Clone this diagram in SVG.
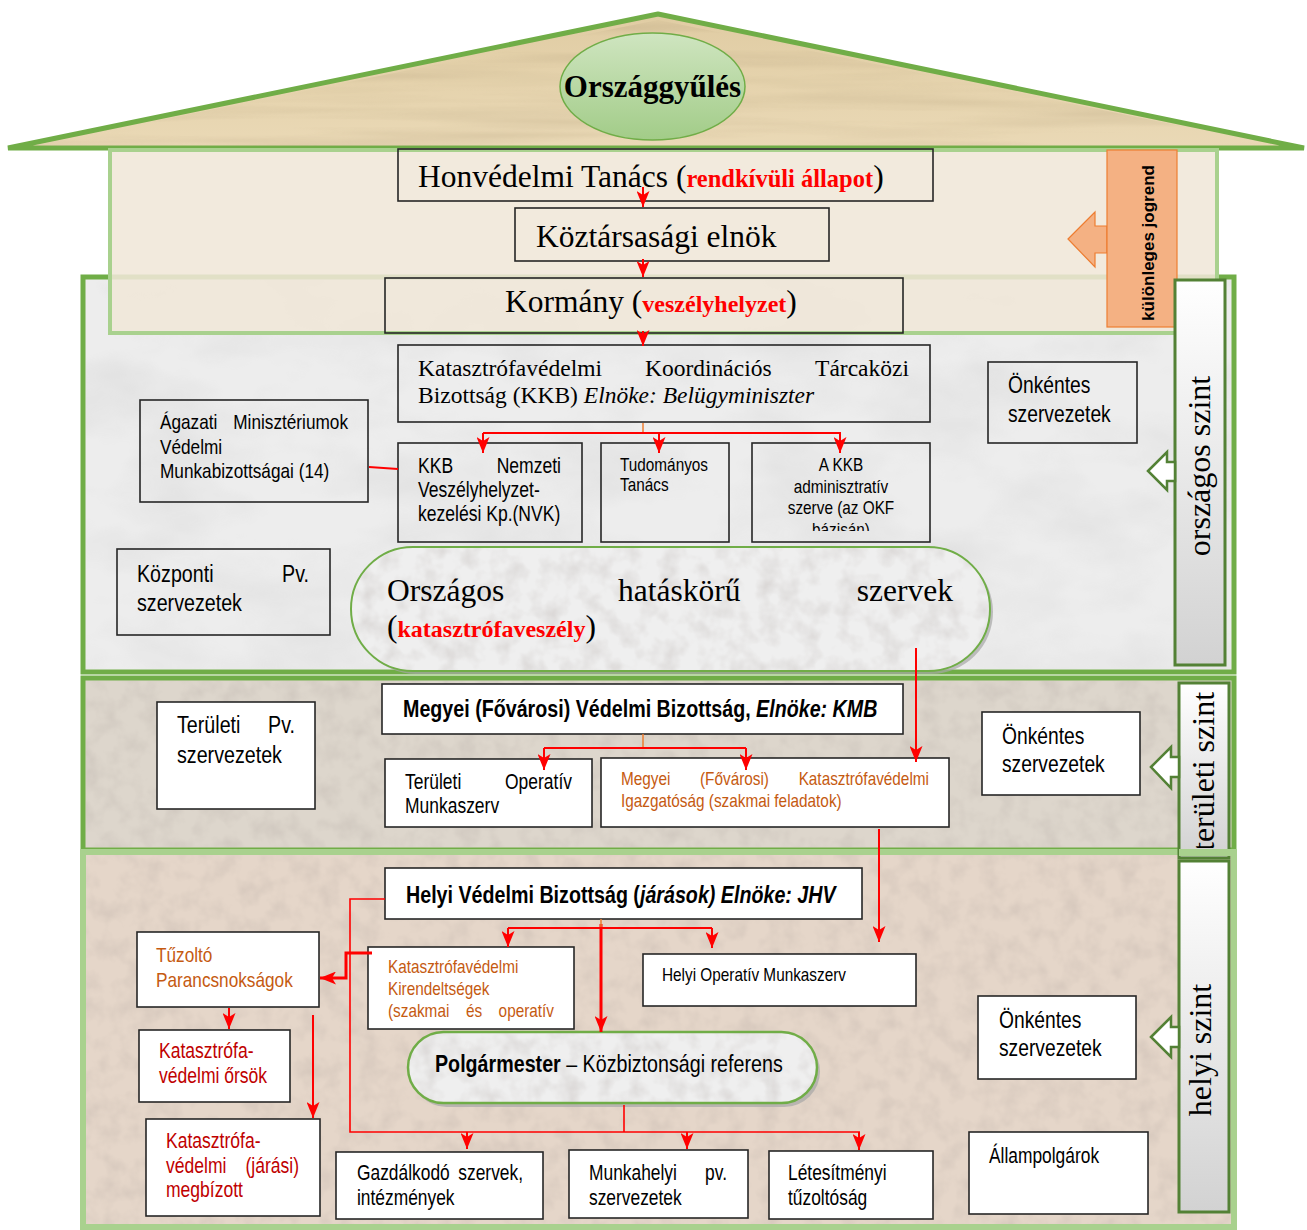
<svg xmlns="http://www.w3.org/2000/svg" width="1307" height="1230" viewBox="0 0 1307 1230">
<defs>
<style>
.s{font-family:"Liberation Serif","Times New Roman",serif}
.n{font-family:"Liberation Sans Narrow","Liberation Sans",Arial,sans-serif}
.a{font-family:"Liberation Sans",Arial,sans-serif}
.bx{fill:none;stroke:#262626;stroke-width:1.6}
.bw{fill:#fff;stroke:#262626;stroke-width:1.6}
.rl{fill:none;stroke:#ff0000;stroke-width:2}
.rf{fill:none;stroke:#ff0000;stroke-width:1.6}
.rt{fill:none;stroke:#ff0000;stroke-width:3}
.ol{fill:none;stroke:#ed7d31;stroke-width:1.5}
.red{fill:#ff0000;font-weight:bold}
.or{fill:#c55a11}
.dr{fill:#c00000}
.lvl{fill:url(#lvlg);stroke:#538135;stroke-width:3}
.la{fill:#fff;stroke:#538135;stroke-width:2.5}
</style>
<linearGradient id="roofg" x1="0" y1="0" x2="0" y2="1"><stop offset="0" stop-color="#e0cca3"/><stop offset="1" stop-color="#ead9b6"/></linearGradient>
<linearGradient id="ovg" x1="0" y1="0" x2="0" y2="1"><stop offset="0" stop-color="#cfe5c0"/><stop offset="1" stop-color="#a2cc88"/></linearGradient>
<linearGradient id="lvlg" x1="0" y1="0" x2="0" y2="1"><stop offset="0" stop-color="#ffffff"/><stop offset="1" stop-color="#d2d2d2"/></linearGradient>
<filter id="tx" x="0" y="0" width="1" height="1">
<feTurbulence type="fractalNoise" baseFrequency="0.008 0.014" numOctaves="4" seed="7"/>
<feColorMatrix type="matrix" values="0 0 0 0 0.3 0 0 0 0 0.3 0 0 0 0 0.3 -1.6 0 0 0 0.95"/>
<feComposite in2="SourceGraphic" operator="in"/>
</filter>
<filter id="tf" x="0" y="0" width="1" height="1">
<feTurbulence type="fractalNoise" baseFrequency="0.05 0.05" numOctaves="3" seed="3"/>
<feColorMatrix type="matrix" values="0 0 0 0 0.35 0 0 0 0 0.3 0 0 0 0 0.28 -1.6 0 0 0 0.95"/>
<feComposite in2="SourceGraphic" operator="in"/>
</filter>
<filter id="ts" x="0" y="0" width="1" height="1">
<feTurbulence type="fractalNoise" baseFrequency="0.003 0.06" numOctaves="3" seed="5"/>
<feColorMatrix type="matrix" values="0 0 0 0 0.45 0 0 0 0 0.35 0 0 0 0 0.2 -1.6 0 0 0 0.95"/>
<feComposite in2="SourceGraphic" operator="in"/>
</filter>
<marker id="ah" viewBox="0 0 16 13" refX="16" refY="6.5" markerWidth="16" markerHeight="13" markerUnits="userSpaceOnUse" orient="auto"><path d="M0,0 L16,6.5 L0,13 L4,6.5 z" fill="#ff0000"/></marker>
<clipPath id="cpKkb"><rect x="752" y="443" width="178" height="88"/></clipPath>
<clipPath id="cpTer"><rect x="1170" y="680" width="70" height="168"/></clipPath>
</defs>

<!-- building -->
<g id="roof">
<polygon points="8,148 658,14 1304,148" fill="url(#roofg)" stroke="#70ad47" stroke-width="5" stroke-linejoin="bevel"/>
<polygon points="30,146 658,20 1280,146" fill="#fff" filter="url(#ts)" opacity="0.35"/>
</g>
<g id="national-area">
<rect x="83" y="277" width="1151" height="395" fill="#ededed" stroke="#70ad47" stroke-width="5"/>
<rect x="86" y="280" width="1145" height="389" fill="#fff" filter="url(#tx)" opacity="0.18"/>
</g>
<g id="special-band">
<rect x="110" y="150" width="1107" height="183" fill="#f0e7d8" fill-opacity="0.88" stroke="#a9d18e" stroke-width="4"/>
</g>
<g id="territorial-area">
<rect x="83" y="678" width="1151" height="172" fill="#ddd6cc" stroke="#70ad47" stroke-width="5"/>
<rect x="86" y="681" width="1145" height="166" fill="#fff" filter="url(#tf)" opacity="0.25"/>
</g>
<g id="local-area">
<rect x="83" y="852" width="1151" height="375" fill="#e5d6c9" stroke="#a9d18e" stroke-width="6"/>
<rect x="86" y="855" width="1145" height="369" fill="#fff" filter="url(#tf)" opacity="0.25"/>
</g>

<g id="orszaggyules">
<ellipse cx="652.5" cy="86.5" rx="92.5" ry="53.5" fill="url(#ovg)" stroke="#70ad47" stroke-width="1.5"/>
<text class="s" x="652.5" y="97" font-size="31" font-weight="bold" text-anchor="middle">Országgyűlés</text>
</g>

<!-- level labels -->
<g id="kulonleges-jogrend">
<polygon points="1068,239 1095,212 1095,226 1107,226 1107,253 1095,253 1095,267" fill="#f4b183" stroke="#ed7d31" stroke-width="1.2"/>
<rect x="1107" y="150" width="70" height="177" fill="#f4b183" stroke="#ed7d31" stroke-width="1.2"/>
<text class="a" x="0" y="0" font-size="17" font-weight="bold" text-anchor="middle" transform="translate(1154,243) rotate(-90)">különleges jogrend</text>
</g>
<g id="orszagos-szint">
<rect class="lvl" x="1175" y="280" width="50" height="385"/>
<polygon class="la" points="1148,471 1167,452 1167,462 1175,462 1175,481 1167,481 1167,490"/>
<text class="s" x="0" y="0" font-size="32" text-anchor="middle" transform="translate(1210,466) rotate(-90)">országos szint</text>
</g>
<g id="teruleti-szint">
<rect class="lvl" x="1179" y="683" width="50" height="175"/>
<polygon class="la" points="1151,767 1171,747 1171,757 1179,757 1179,777 1171,777 1171,788"/>
<g clip-path="url(#cpTer)"><text class="s" x="0" y="0" font-size="32" transform="translate(1214,851) rotate(-90)">területi szint</text></g>
</g>
<g id="local-band-fix"><rect x="1179" y="849" width="55" height="7" fill="#a9d18e"/></g>
<g id="helyi-szint">
<rect class="lvl" x="1179" y="861" width="50" height="351"/>
<polygon class="la" points="1151,1037 1171,1017 1171,1027 1179,1027 1179,1047 1171,1047 1171,1057"/>
<text class="s" x="0" y="0" font-size="32" text-anchor="middle" transform="translate(1211,1050) rotate(-90)">helyi szint</text>
</g>

<!-- upper nodes -->
<g id="honvedelmi-tanacs">
<rect class="bx" x="398" y="149" width="535" height="52"/>
<text class="s" x="418" y="187" font-size="31.5">Honvédelmi Tanács (<tspan class="red" font-size="24.5">rendkívüli állapot</tspan>)</text>
</g>
<g id="koztarsasagi-elnok">
<rect class="bx" x="515" y="208" width="314" height="53"/>
<text class="s" x="536" y="247" font-size="31.5">Köztársasági elnök</text>
</g>
<g id="kormany">
<rect class="bx" x="385" y="278" width="518" height="55"/>
<text class="s" x="505" y="312" font-size="31.5">Kormány (<tspan class="red" font-size="24">veszélyhelyzet</tspan>)</text>
</g>

<!-- national level -->
<g id="kkb">
<rect class="bx" x="398" y="345" width="532" height="77"/>
<text class="s" font-size="23.5"><tspan x="418" y="376">Katasztrófavédelmi</tspan><tspan x="645" y="376">Koordinációs</tspan><tspan x="909" y="376" text-anchor="end">Tárcaközi</tspan></text>
<text class="s" x="418" y="403" font-size="23.5">Bizottság (KKB) <tspan font-style="italic">Elnöke: Belügyminiszter</tspan></text>
</g>
<g id="agazati">
<rect class="bx" x="140" y="400" width="228" height="102"/>
<text class="n" font-size="21" transform="matrix(.82 0 0 1 28.8 0)"><tspan x="160" y="429">Ágazati</tspan><tspan x="160" y="454">Védelmi</tspan><tspan x="160" y="478">Munkabizottságai (14)</tspan></text>
<text class="n" font-size="21" x="348" y="429" text-anchor="end" transform="matrix(.82 0 0 1 62.64 0)">Minisztériumok</text>
</g>
<g id="nvk">
<rect class="bx" x="398" y="443" width="184" height="99"/>
<text class="n" font-size="21.4" transform="matrix(.82 0 0 1 75.24 0)"><tspan x="418" y="473">KKB</tspan><tspan x="418" y="497">Veszélyhelyzet-</tspan><tspan x="418" y="521">kezelési Kp.(NVK)</tspan></text>
<text class="n" font-size="21.4" x="561" y="473" text-anchor="end" transform="matrix(.82 0 0 1 100.98 0)">Nemzeti</text>
</g>
<g id="tudomanyos-tanacs">
<rect class="bx" x="601" y="443" width="128" height="99"/>
<text class="n" font-size="18.7" transform="matrix(.82 0 0 1 111.6 0)"><tspan x="620" y="471">Tudományos</tspan><tspan x="620" y="491">Tanács</tspan></text>
</g>
<g id="kkb-adminisztrativ">
<rect class="bx" x="752" y="443" width="178" height="99"/>
<g clip-path="url(#cpKkb)"><text class="n" font-size="18.7" text-anchor="middle" transform="matrix(.82 0 0 1 151.38 0)"><tspan x="841" y="471">A KKB</tspan><tspan x="841" y="493">adminisztratív</tspan><tspan x="841" y="514">szerve (az OKF</tspan><tspan x="841" y="536">bázisán)</tspan></text></g>
</g>
<g id="onkentes-orszagos">
<rect class="bx" x="988" y="362" width="149" height="81"/>
<text class="n" font-size="23.5" transform="matrix(.82 0 0 1 181.44 0)"><tspan x="1008" y="393">Önkéntes</tspan><tspan x="1008" y="422">szervezetek</tspan></text>
</g>
<g id="kozponti-pv">
<rect class="bx" x="117" y="549" width="213" height="86"/>
<text class="n" font-size="24" transform="matrix(.82 0 0 1 24.66 0)"><tspan x="137" y="582">Központi</tspan><tspan x="137" y="611">szervezetek</tspan></text>
<text class="n" font-size="24" x="309" y="582" text-anchor="end" transform="matrix(.82 0 0 1 55.62 0)">Pv.</text>
</g>
<g id="orszagos-hataskoru">
<rect x="354" y="550" width="639" height="124" rx="62" fill="#a6a6a6" opacity="0.7"/>
<rect x="351" y="547" width="639" height="124" rx="62" fill="#efefef" stroke="#70ad47" stroke-width="2"/>
<rect x="352" y="548" width="637" height="122" rx="61" fill="#fff" filter="url(#tf)" opacity="0.3"/>
<text class="s" font-size="31.5"><tspan x="387" y="601">Országos</tspan><tspan x="618" y="601">hatáskörű</tspan><tspan x="953" y="601" text-anchor="end">szervek</tspan></text>
<text class="s" x="387" y="637" font-size="31.5">(<tspan class="red" font-size="24">katasztrófaveszély</tspan>)</text>
</g>

<!-- territorial level -->
<g id="teruleti-pv">
<rect class="bw" x="157" y="702" width="158" height="107"/>
<text class="n" font-size="24" transform="matrix(.82 0 0 1 31.86 0)"><tspan x="177" y="733">Területi</tspan><tspan x="177" y="763">szervezetek</tspan></text>
<text class="n" font-size="24" x="295" y="733" text-anchor="end" transform="matrix(.82 0 0 1 53.1 0)">Pv.</text>
</g>
<g id="megyei-vb">
<rect class="bw" x="382" y="684" width="521" height="50"/>
<text class="n" x="403" y="717" font-size="24" font-weight="bold" transform="matrix(.82 0 0 1 72.54 0)">Megyei (Fővárosi) Védelmi Bizottság, <tspan font-style="italic">Elnöke: KMB</tspan></text>
</g>
<g id="teruleti-operativ">
<rect class="bw" x="385" y="759" width="207" height="68"/>
<text class="n" font-size="21.3" transform="matrix(.82 0 0 1 72.9 0)"><tspan x="405" y="789">Területi</tspan><tspan x="405" y="813">Munkaszerv</tspan></text>
<text class="n" font-size="21.3" x="572" y="789" text-anchor="end" transform="matrix(.82 0 0 1 102.96 0)">Operatív</text>
</g>
<g id="megyei-igazgatosag">
<rect class="bw" x="601" y="758" width="348" height="69"/>
<text class="n or" font-size="18.7" transform="matrix(.82 0 0 1 111.78 0)"><tspan x="621" y="785">Megyei</tspan><tspan x="621" y="807">Igazgatóság (szakmai feladatok)</tspan></text>
<text class="n or" font-size="18.7" x="700" y="785" transform="matrix(.82 0 0 1 126 0)">(Fővárosi)</text>
<text class="n or" font-size="18.7" x="929" y="785" text-anchor="end" transform="matrix(.82 0 0 1 167.22 0)">Katasztrófavédelmi</text>
</g>
<g id="onkentes-teruleti">
<rect class="bw" x="982" y="712" width="158" height="83"/>
<text class="n" font-size="23.5" transform="matrix(.82 0 0 1 180.36 0)"><tspan x="1002" y="744">Önkéntes</tspan><tspan x="1002" y="772">szervezetek</tspan></text>
</g>

<!-- local level -->
<g id="helyi-vb">
<rect class="bw" x="385" y="868" width="477" height="51"/>
<text class="n" x="406" y="903" font-size="24" font-weight="bold" transform="matrix(.82 0 0 1 73.08 0)">Helyi Védelmi Bizottság (<tspan font-style="italic">járások) Elnöke: JHV</tspan></text>
</g>
<g id="tuzolto-parancsnoksagok">
<rect class="bw" x="137" y="932" width="182" height="75"/>
<text class="n or" font-size="21" transform="matrix(.82 0 0 1 28.08 0)"><tspan x="156" y="962">Tűzoltó</tspan><tspan x="156" y="987">Parancsnokságok</tspan></text>
</g>
<g id="kirendeltsegek">
<rect class="bw" x="368" y="947" width="206" height="82"/>
<text class="n or" font-size="18.7" transform="matrix(.82 0 0 1 69.84 0)"><tspan x="388" y="973">Katasztrófavédelmi</tspan><tspan x="388" y="995">Kirendeltségek</tspan><tspan x="388" y="1017">(szakmai</tspan></text>
<text class="n or" font-size="18.7" x="466" y="1017" transform="matrix(.82 0 0 1 83.88 0)">és</text>
<text class="n or" font-size="18.7" x="554" y="1017" text-anchor="end" transform="matrix(.82 0 0 1 99.72 0)">operatív</text>
</g>
<g id="helyi-operativ">
<rect class="bw" x="643" y="954" width="273" height="52"/>
<text class="n" x="662" y="981" font-size="18.7" transform="matrix(.82 0 0 1 119.16 0)">Helyi Operatív Munkaszerv</text>
</g>
<g id="polgarmester">
<rect x="411" y="1036" width="409" height="71" rx="35.5" fill="#a6a6a6" opacity="0.7"/>
<rect x="408" y="1032" width="409" height="71" rx="35.5" fill="#efefef" stroke="#70ad47" stroke-width="2.5"/>
<rect x="409" y="1033" width="407" height="69" rx="34.5" fill="#fff" filter="url(#tf)" opacity="0.3"/>
<text class="n" x="435" y="1072" font-size="24" transform="matrix(.82 0 0 1 78.3 0)"><tspan font-weight="bold">Polgármester</tspan> – Közbiztonsági referens</text>
</g>
<g id="orsok">
<rect class="bw" x="139" y="1030" width="151" height="72"/>
<text class="n dr" font-size="21.4" transform="matrix(.82 0 0 1 28.62 0)"><tspan x="159" y="1058">Katasztrófa-</tspan><tspan x="159" y="1083">védelmi őrsök</tspan></text>
</g>
<g id="jarasi-megbizott">
<rect class="bw" x="146" y="1119" width="174" height="97"/>
<text class="n dr" font-size="21.4" transform="matrix(.82 0 0 1 29.88 0)"><tspan x="166" y="1148">Katasztrófa-</tspan><tspan x="166" y="1173">védelmi</tspan><tspan x="166" y="1197">megbízott</tspan></text>
<text class="n dr" font-size="21.4" x="299" y="1173" text-anchor="end" transform="matrix(.82 0 0 1 53.82 0)">(járási)</text>
</g>
<g id="gazdalkodo">
<rect class="bw" x="336" y="1152" width="207" height="67"/>
<text class="n" font-size="21.2" transform="matrix(.82 0 0 1 64.26 0)"><tspan x="357" y="1180">Gazdálkodó</tspan><tspan x="357" y="1205">intézmények</tspan></text>
<text class="n" font-size="21.2" x="523" y="1180" text-anchor="end" transform="matrix(.82 0 0 1 94.14 0)">szervek,</text>
</g>
<g id="munkahelyi-pv">
<rect class="bw" x="569" y="1150" width="179" height="68"/>
<text class="n" font-size="21.2" transform="matrix(.82 0 0 1 106.02 0)"><tspan x="589" y="1180">Munkahelyi</tspan><tspan x="589" y="1205">szervezetek</tspan></text>
<text class="n" font-size="21.2" x="727" y="1180" text-anchor="end" transform="matrix(.82 0 0 1 130.86 0)">pv.</text>
</g>
<g id="letesitmenyi">
<rect class="bw" x="769" y="1151" width="164" height="68"/>
<text class="n" font-size="21.2" transform="matrix(.82 0 0 1 141.84 0)"><tspan x="788" y="1180">Létesítményi</tspan><tspan x="788" y="1205">tűzoltóság</tspan></text>
</g>
<g id="onkentes-helyi">
<rect class="bw" x="978" y="996" width="158" height="83"/>
<text class="n" font-size="23.5" transform="matrix(.82 0 0 1 179.82 0)"><tspan x="999" y="1028">Önkéntes</tspan><tspan x="999" y="1056">szervezetek</tspan></text>
</g>
<g id="allampolgarok">
<rect class="bw" x="969" y="1132" width="179" height="82"/>
<text class="n" x="989" y="1163" font-size="21.2" transform="matrix(.82 0 0 1 178.02 0)">Állampolgárok</text>
</g>

<!-- connectors -->
<g id="connectors">
<path class="rl" d="M643,187 V207" marker-end="url(#ah)"/>
<path class="rl" d="M643,259 V277" marker-end="url(#ah)"/>
<path class="rl" d="M643,331 V346" marker-end="url(#ah)"/>
<path class="ol" d="M643,423 V433"/>
<path class="rl" d="M483,433 H841"/>
<path class="rl" d="M483,433 V453" marker-end="url(#ah)"/>
<path class="rl" d="M659,433 V453" marker-end="url(#ah)"/>
<path class="rl" d="M840,433 V453" marker-end="url(#ah)"/>
<path class="rl" d="M369,467 L398,469"/>
<path class="rl" d="M916,648 V762" marker-end="url(#ah)"/>
<path class="ol" d="M643,734 V748"/>
<path class="rl" d="M544,748 H746"/>
<path class="rl" d="M544,748 V770" marker-end="url(#ah)"/>
<path class="rl" d="M746,748 V770" marker-end="url(#ah)"/>
<path class="rl" d="M879,829 V942" marker-end="url(#ah)"/>
<path class="rt" d="M601,924 V1032" marker-end="url(#ah)"/>
<path class="ol" d="M601,919 V928"/>
<path class="rl" d="M508,928 H712"/>
<path class="rl" d="M508,928 V947" marker-end="url(#ah)"/>
<path class="rl" d="M712,928 V948" marker-end="url(#ah)"/>
<path class="rf" d="M385,899 H350 V1132 H860"/>
<path class="rf" d="M624,1105 V1132"/>
<path class="rl" d="M467,1132 V1149" marker-end="url(#ah)"/>
<path class="rl" d="M687,1132 V1149" marker-end="url(#ah)"/>
<path class="rl" d="M859,1132 V1150" marker-end="url(#ah)"/>
<path class="rt" d="M372,953 H346 V978 H320" marker-end="url(#ah)"/>
<path class="rl" d="M229,1008 V1029" marker-end="url(#ah)"/>
<path class="rl" d="M313,1015 V1118" marker-end="url(#ah)"/>
</g>
</svg>
